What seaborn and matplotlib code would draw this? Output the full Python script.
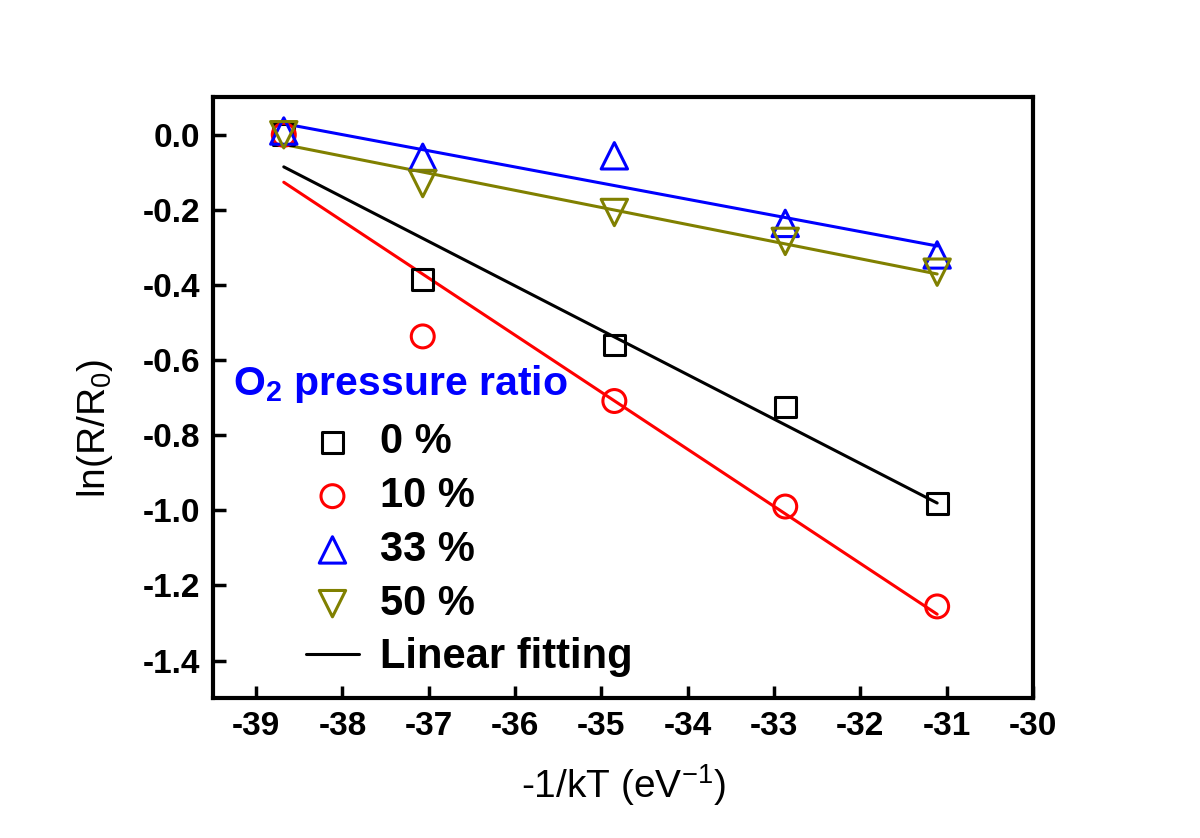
"""
ln(R/R0) vs -1/kT for different O2 pressure ratios, with linear fits.
"""

import numpy as np
import pandas as pd
import matplotlib
matplotlib.use("Agg")
import matplotlib.pyplot as plt
import seaborn as sns

# ─────────────────────────────────────────
# Data
# ─────────────────────────────────────────
inv_kT = [-38.68, -37.07, -34.85, -32.87, -31.11]

ratio_labels = ["0 %", "10 %", "33 %", "50 %"]
ln_r_0 = [0.000, -0.385, -0.560, -0.725, -0.983]
ln_r_10 = [0.000, -0.537, -0.709, -0.990, -1.256]
ln_r_33 = [0.010, -0.060, -0.056, -0.236, -0.320]
ln_r_50 = [0.000, -0.130, -0.207, -0.284, -0.366]

x_ticks = [-39, -38, -37, -36, -35, -34, -33, -32, -31, -30]
y_ticks = [0.0, -0.2, -0.4, -0.6, -0.8, -1.0, -1.2, -1.4]

colors = ["#000000", "#FF0000", "#0000FF", "#808000"]
markers = ["s", "o", "^", "v"]
marker_sizes = [15, 16.5, 19, 19]

# ─────────────────────────────────────────
# Style
# ─────────────────────────────────────────
sns.set_theme(style="white")
plt.rcParams["font.family"] = ["Liberation Sans", "DejaVu Sans"]
plt.rcParams["mathtext.fontset"] = "custom"
plt.rcParams["mathtext.rm"] = "Liberation Sans"
plt.rcParams["mathtext.it"] = "Liberation Sans:italic"
plt.rcParams["mathtext.bf"] = "Liberation Sans:bold"
plt.rcParams["axes.unicode_minus"] = False
for key in ["text.color", "axes.labelcolor", "xtick.color", "ytick.color"]:
    plt.rcParams[key] = "black"

fig = plt.figure(figsize=(12, 8.38), dpi=100)
ax = fig.add_axes([0.1775, 0.167, 0.6833, 0.717])

series = [ln_r_0, ln_r_10, ln_r_33, ln_r_50]

# markers
for vals, lab, col, mk, ms in zip(series, ratio_labels, colors, markers, marker_sizes):
    df = pd.DataFrame({"x": inv_kT, "y": vals})
    sns.scatterplot(
        data=df, x="x", y="y", ax=ax,
        marker=mk, s=ms ** 2, color=col, facecolors="none",
        edgecolor=col, linewidth=2.2, label=lab, zorder=3,
    )

# linear fits
for i, (vals, col) in enumerate(zip(series, colors)):
    slope, icpt = np.polyfit(inv_kT, vals, 1)
    xs = np.array([inv_kT[0], inv_kT[-1]])
    fit = pd.DataFrame({"x": xs, "y": slope * xs + icpt})
    sns.lineplot(
        data=fit, x="x", y="y", ax=ax, color=col, linewidth=2.2,
        errorbar=None, label="Linear fitting" if i == 0 else "_nolegend_",
        zorder=2,
    )

# ─────────────────────────────────────────
# Axes
# ─────────────────────────────────────────
ax.set_xlim(-39.5, -30)
ax.set_ylim(-1.5, 0.1)
ax.set_xticks(x_ticks)
ax.set_yticks(y_ticks)
ax.set_xticklabels([f"{t:d}" for t in x_ticks])
ax.set_yticklabels([f"{t:.1f}" for t in y_ticks])
ax.tick_params(axis="both", direction="in", length=9, width=2.5,
               labelsize=24, pad=9, top=False, right=False,
               bottom=True, left=True)
for lbl in ax.get_xticklabels() + ax.get_yticklabels():
    lbl.set_fontweight("bold")
for sp in ax.spines.values():
    sp.set_linewidth(3)
    sp.set_color("black")

ax.set_xlabel("-1/kT (eV$^{-1}$)", fontsize=28, labelpad=15)
ax.set_ylabel("ln(R/R$_0$)", fontsize=28)
ax.yaxis.set_label_coords(-0.12, 0.449)

# legend title as separate text, entries indented below it
ax.text(0.024, 0.523, "O$_\\mathbf{2}$ pressure ratio", transform=ax.transAxes,
        fontsize=29.5, fontweight="bold", color="#0000FF",
        ha="left", va="center")

leg = ax.legend(
    loc="upper left", bbox_to_anchor=(0.255, 0.496),
    bbox_transform=fig.transFigure, frameon=False,
    prop={"size": 30, "weight": "bold"},
    handlelength=1.27, handletextpad=0.5, labelspacing=0.33,
    borderpad=0, borderaxespad=0,
)

fig.savefig("out.png", dpi=100)
